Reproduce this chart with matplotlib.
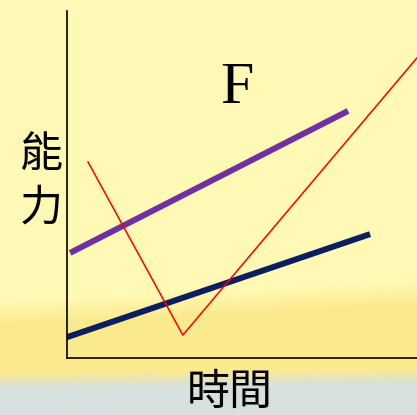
import matplotlib
matplotlib.use("Agg")
import matplotlib.pyplot as plt
import numpy as np

# data (axis units: x 0-10, y 0-10)
purple_x = [0.09, 8.03]
purple_y = [3.03, 7.12]
navy_x = [0.0, 8.66]
navy_y = [0.60, 3.57]
red_x = [0.60, 3.31, 10.0]
red_y = [5.65, 0.66, 8.65]

W, H = 417, 415
fig = plt.figure(figsize=(W / 100, H / 100), dpi=100)

# background: pale yellow slide with a deeper band and grey-blue bottom
bg = fig.add_axes([0, 0, 1, 1])
yy, xx = np.mgrid[0:H, 0:W]
top = np.array([1.0, 0.98, 0.71])
band = np.array([0.985, 0.915, 0.56])
grey = np.array([0.84, 0.88, 0.875])
b1 = 300 - 20 * xx / W
b2 = 372 - 4 * xx / W
t1 = np.clip((yy - b1) / 25, 0, 1)[..., None]
t2 = np.clip((yy - b2) / 16, 0, 1)[..., None]
img = top * (1 - t1) + band * t1
img = img * (1 - t2) + grey * t2
bg.imshow(img, aspect="auto", extent=[0, W, H, 0])
bg.set_axis_off()

ax = fig.add_axes([67 / W, (H - 358) / H, (417 - 67) / W, (358 - 11) / H])
ax.patch.set_alpha(0)
ax.plot(purple_x, purple_y, color="#7030A0", lw=4.3, solid_capstyle="butt")
ax.plot(navy_x, navy_y, color="#0B1F5E", lw=4.3, solid_capstyle="butt")
ax.plot(red_x, red_y, color="#FF0000", lw=1.1)
ax.set_xlim(0, 10)
ax.set_ylim(0, 10)
ax.set_xticks([])
ax.set_yticks([])
for s in ["top", "right"]:
    ax.spines[s].set_visible(False)
for s in ["left", "bottom"]:
    ax.spines[s].set_linewidth(1.2)
    ax.spines[s].set_color("black")

fig.text(237 / W, 1 - 89 / H, "F", family="Liberation Serif", fontsize=43,
         ha="center", va="center")
fig.text(41 / W, 1 - 182 / H, "能\n力", family="Noto Sans CJK TC", fontsize=31,
         ha="center", va="center", linespacing=1.25)
fig.text(230 / W, 1 - 393 / H, "時間", family="Noto Sans CJK TC", fontsize=31,
         ha="center", va="center")

fig.savefig("out.png", dpi=100)
